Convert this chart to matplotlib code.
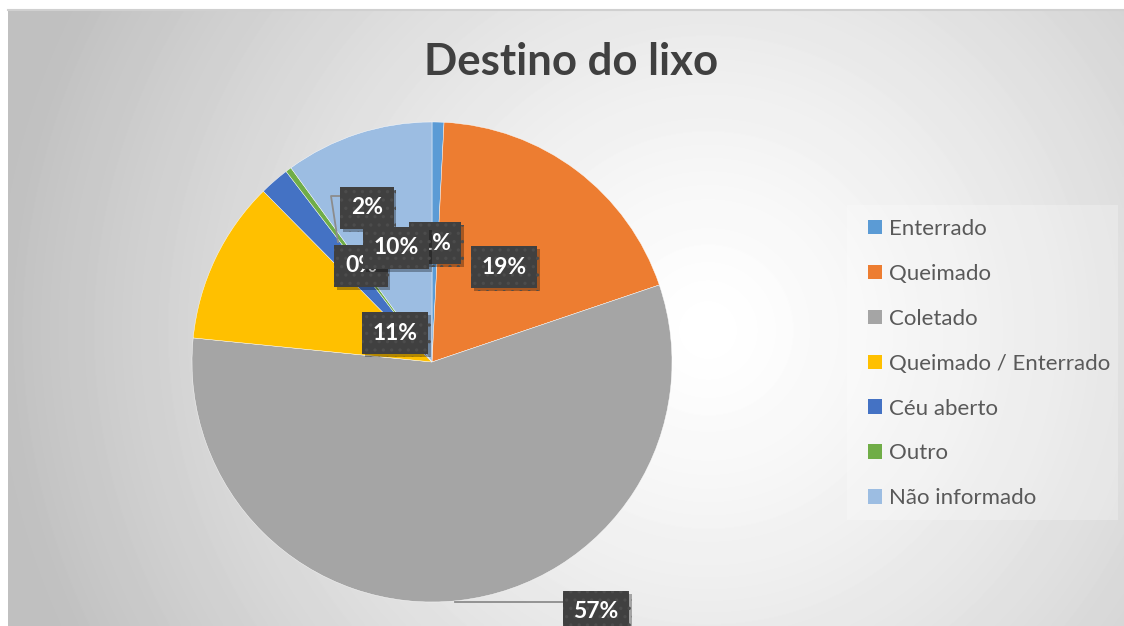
import numpy as np
import matplotlib.pyplot as plt
import matplotlib.patheffects as pe
from matplotlib.patches import Patch, Rectangle

plt.rcParams['font.family'] = ['Lato', 'DejaVu Sans']
plt.rcParams['hatch.linewidth'] = 1.2

# dados (percentuais)
categorias = ['Enterrado', 'Queimado', 'Coletado', 'Queimado / Enterrado',
              'Céu aberto', 'Outro', 'Não informado']
valores = [0.8, 19.0, 56.8, 11.0, 2.0, 0.4, 10.0]
cores = ['#5B9BD5', '#ED7D31', '#A5A5A5', '#FFC000', '#4472C4', '#70AD47', '#9CBDE2']
rotulos = ['1%', '19%', '57%', '11%', '2%', '0%', '10%']

W, H = 1124, 626
fig = plt.figure(figsize=(W / 100, H / 100), dpi=100)
fig.patch.set_facecolor('white')

# fundo com gradiente radial (area do grafico)
bg = fig.add_axes([8 / W, 0, (W - 8) / W, (H - 10) / H])
yy, xx = np.mgrid[0:H - 10, 0:W - 8]
cx, cy = 700, 320
r = np.sqrt((xx - cx) ** 2 + (yy - cy) ** 2) / 720
grad = 1 - 0.25 * np.clip(r, 0, 1) ** 1.3
bg.imshow(grad, cmap='gray', vmin=0, vmax=1, aspect='auto', interpolation='bilinear')
bg.set_axis_off()
fig.add_artist(plt.Line2D([8 / W, 1], [(H - 10) / H] * 2, color='#D0D0D0', lw=1.5))

# eixo da pizza: centro (432, 362) px, raio 240 px
cxp, cyp, R = 432, 362, 240
ax = fig.add_axes([(cxp - R) / W, (H - cyp - R) / H, 2 * R / W, 2 * R / H])
ax.pie(valores, colors=cores, startangle=90, counterclock=False, radius=1,
       wedgeprops=dict(linewidth=0.3, edgecolor='white'))
ax.set_xlim(-1, 1)
ax.set_ylim(-1, 1)
ax.set_aspect('auto')
ax.set_axis_off()


def px(x, y):
    return (x - cxp) / R, (cyp - y) / R


# linhas de chamada
x0, y0 = px(455, 602)
x1, y1 = px(565, 602)
ax.plot([x0, x1], [y0, y1], color='#8C8C8C', lw=1.3, clip_on=False)
xa, ya = px(343, 196)
xb, yb = px(331, 196)
xc, yc = px(338, 242)
ax.plot([xa, xb, xc], [ya, yb, yc], color='#8C8C8C', lw=1.3, clip_on=False)

# posicoes dos rotulos (px)
pos = {'19%': (504, 267), '57%': (596, 612), '11%': (395, 333), '2%': (367, 208),
       '0%': (361, 266), '1%': (435, 243), '10%': (396, 248)}
ordem = ['19%', '57%', '11%', '2%', '0%', '1%', '10%']
for i, lab in enumerate(ordem):
    x, y = px(*pos[lab])
    t = ax.text(x, y, lab, fontsize=16.5, fontweight='bold', color='white',
                ha='center', va='center', zorder=10 + i, clip_on=False,
                bbox=dict(boxstyle='square,pad=0.46', facecolor='#404040',
                          edgecolor='#4C4C4C', hatch='..', linewidth=0))
    t.get_bbox_patch().set_path_effects(
        [pe.withSimplePatchShadow(offset=(2, -2), shadow_rgbFace='black', alpha=0.3)])

fig.text(571 / W, 1 - 62 / H, 'Destino do lixo', fontsize=31.5, fontweight='bold',
         color='#404040', ha='center', va='center')

# caixa da legenda
fig.add_artist(Rectangle((847 / W, 1 - 520 / H), (1118 - 847) / W, (520 - 205) / H,
                         transform=fig.transFigure, facecolor='white', alpha=0.25,
                         edgecolor='none'))
handles = [Patch(facecolor=c, edgecolor='none') for c in cores]
leg = fig.legend(handles, categorias, loc='upper left',
                 bbox_to_anchor=(868 / W, 1 - 219 / H), frameon=False,
                 fontsize=16, labelcolor='#595959', handlelength=0.63,
                 handleheight=0.63, handletextpad=0.3, labelspacing=1.12,
                 borderpad=0, borderaxespad=0)

fig.savefig('out.png', dpi=100)
